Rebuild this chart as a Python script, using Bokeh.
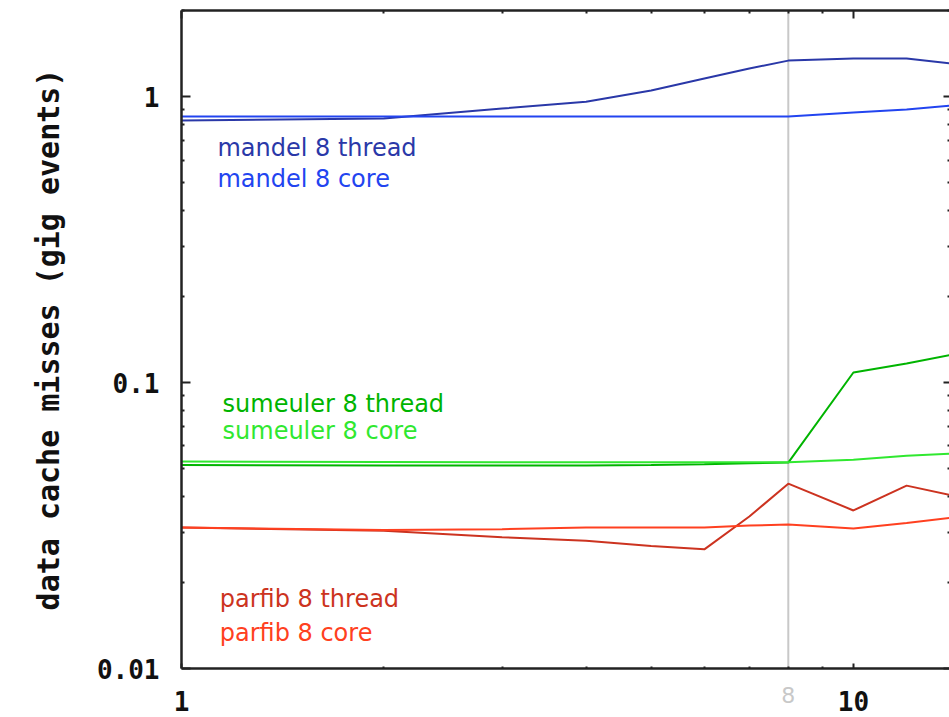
from bokeh.plotting import figure
from bokeh.models import Range1d, LogAxis, FixedTicker, Span, Label, CustomJSTickFormatter
from bokeh.embed import file_html
from bokeh.resources import INLINE

# thread counts on the x axis
threads = [1, 2, 3, 4, 5, 6, 7, 8, 10, 12, 14]

# data cache misses in gig events
mandel_thread = [0.824, 0.838, 0.908, 0.960, 1.050, 1.156, 1.253, 1.336, 1.358, 1.358, 1.304]
mandel_core = [0.851, 0.851, 0.851, 0.851, 0.851, 0.851, 0.851, 0.851, 0.879, 0.901, 0.930]
sumeuler_thread = [0.0515, 0.0513, 0.0513, 0.0513, 0.0515, 0.0518, 0.0522, 0.0525, 0.1084, 0.1165, 0.125]
sumeuler_core = [0.0529, 0.0527, 0.0526, 0.0526, 0.0526, 0.0526, 0.0526, 0.0526, 0.0537, 0.0555, 0.0564]
parfib_thread = [0.0311, 0.0303, 0.0288, 0.0280, 0.0268, 0.0261, 0.0340, 0.0443, 0.0357, 0.0436, 0.0403]
parfib_core = [0.0311, 0.0305, 0.0307, 0.0311, 0.0311, 0.0311, 0.0316, 0.0319, 0.0309, 0.0323, 0.0337]

# tick positions
x_major = [1, 10]
x_minor = [2, 3, 4, 5, 6, 7, 8, 9, 20]
y_major = [0.01, 0.1, 1]
y_minor = [0.02, 0.03, 0.04, 0.05, 0.06, 0.07, 0.08, 0.09,
           0.2, 0.3, 0.4, 0.5, 0.6, 0.7, 0.8, 0.9, 2]

# highlighted thread count
marked_threads = 8

series = [
    ("mandel 8 thread", mandel_thread, "#2a38a8"),
    ("mandel 8 core", mandel_core, "#2244f0"),
    ("sumeuler 8 thread", sumeuler_thread, "#00b400"),
    ("sumeuler 8 core", sumeuler_core, "#30e830"),
    ("parfib 8 thread", parfib_thread, "#cc3320"),
    ("parfib 8 core", parfib_core, "#ff4020"),
]

# where each series name is written inside the plot (data coordinates)
label_pos = {
    "mandel 8 thread": (1.131, 0.663),
    "mandel 8 core": (1.131, 0.517),
    "sumeuler 8 thread": (1.151, 0.0842),
    "sumeuler 8 core": (1.151, 0.0679),
    "parfib 8 thread": (1.140, 0.01757),
    "parfib 8 core": (1.140, 0.01334),
}

AXIS_COLOR = "#222222"
MONO = "DejaVu Sans Mono"

p = figure(
    width=949, height=717,
    x_axis_type="log", y_axis_type="log",
    x_range=Range1d(1, 13.9), y_range=Range1d(0.01, 2.0),
    output_backend="svg", toolbar_location=None,
    min_border_left=181, min_border_right=0,
    min_border_top=10, min_border_bottom=49,
)
p.xgrid.visible = False
p.ygrid.visible = False
p.outline_line_color = None
p.background_fill_color = "white"
p.border_fill_color = "white"

fmt = CustomJSTickFormatter(code="return tick >= 1 ? tick.toFixed(0) : tick.toPrecision(1);")


def style_axis(ax, major_in, minor_in):
    ax.axis_line_color = AXIS_COLOR
    ax.axis_line_width = 2.5
    ax.major_tick_line_color = AXIS_COLOR
    ax.minor_tick_line_color = AXIS_COLOR
    ax.major_tick_line_width = 2
    ax.minor_tick_line_width = 2
    ax.major_tick_in = major_in
    ax.major_tick_out = 0
    ax.minor_tick_in = minor_in
    ax.minor_tick_out = 0


def hide_labels(ax):
    ax.major_label_text_font_size = "1px"
    ax.major_label_text_color = None
    ax.major_label_standoff = 0


# left axis
ya = p.yaxis[0]
ya.ticker = FixedTicker(ticks=y_major, minor_ticks=y_minor)
style_axis(ya, 9, 3)
ya.formatter = fmt
ya.major_label_text_font = MONO
ya.major_label_text_font_style = "bold"
ya.major_label_text_font_size = "26px"
ya.major_label_text_color = "#111111"
ya.major_label_standoff = 22
ya.axis_label = "data cache misses (gig events)"
ya.axis_label_text_font = MONO
ya.axis_label_text_font_style = "bold"
ya.axis_label_text_font_size = "30px"
ya.axis_label_text_color = "#111111"
ya.axis_label_standoff = 28

# bottom axis
xa = p.xaxis[0]
xa.ticker = FixedTicker(ticks=x_major, minor_ticks=x_minor)
style_axis(xa, 5, 2)
xa.formatter = fmt
xa.major_label_text_font = MONO
xa.major_label_text_font_style = "bold"
xa.major_label_text_font_size = "26px"
xa.major_label_text_color = "#111111"
xa.major_label_standoff = 22

# grey value of the marked thread count, pulled up beside the main labels
mark_axis = LogAxis(ticker=FixedTicker(ticks=[marked_threads], minor_ticks=[]))
mark_axis.axis_line_color = None
mark_axis.major_tick_line_color = None
mark_axis.minor_tick_line_color = None
mark_axis.major_tick_in = 0
mark_axis.major_tick_out = 0
mark_axis.formatter = fmt
mark_axis.major_label_text_font = "DejaVu Sans"
mark_axis.major_label_text_font_size = "22px"
mark_axis.major_label_text_color = "#c8c8c8"
mark_axis.major_label_standoff = -27
p.add_layout(mark_axis, "below")

# top axis: ticks only
top = LogAxis(ticker=FixedTicker(ticks=x_major, minor_ticks=x_minor))
style_axis(top, 8, 3)
hide_labels(top)
p.add_layout(top, "above")

# right axis: ticks only, no line
right = LogAxis(ticker=FixedTicker(ticks=y_major, minor_ticks=y_minor))
style_axis(right, 6, 2)
right.axis_line_color = None
hide_labels(right)
p.add_layout(right, "right")

# marker line at the highlighted thread count
p.add_layout(Span(location=marked_threads, dimension="height", line_color="#c8c8c8",
                  line_width=2, level="underlay"))

for name, vals, color in series:
    p.line(threads, vals, line_color=color, line_width=2)
    lx, ly = label_pos[name]
    p.add_layout(Label(x=lx, y=ly, text=name, text_baseline="middle",
                       text_color=color, text_font="DejaVu Sans", text_font_size="24px"))

open("out.html", "w").write(file_html(p, INLINE))
